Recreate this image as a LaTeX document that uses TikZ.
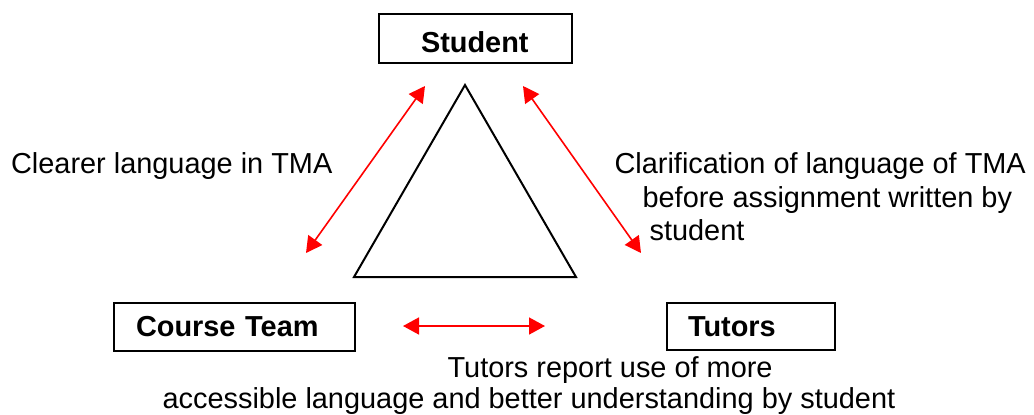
\documentclass[tikz,border=0pt]{standalone}
\usepackage{fontspec}
\setmainfont{Liberation Sans}
\usetikzlibrary{positioning,arrows.meta}

\begin{document}
\begin{tikzpicture}[
  x=0.5pt,y=-0.5pt,semithick,
  font=\fontsize{14.45}{16.75}\selectfont
]
  \tikzset{
    party/.style={draw=black,line width=1pt,font=\fontsize{14.45}{16.75}\selectfont\bfseries,
      align=left,anchor=north west,inner ysep=0pt,minimum height=24pt},
    link/.style={red,line width=0.8pt,{Triangle[length=8pt,width=8.5pt]}-{Triangle[length=8pt,width=8.5pt]}},
    note/.style={anchor=north west,inner sep=0pt,align=left}
  }
  \useasboundingbox (0,0) rectangle (1034,414);

  % The three parties
  \node[party,text width=54.5pt,inner xsep=21pt,minimum height=24.5pt,text height=14.5pt] (S) at (378,13) {Student};
  \node[party,text width=98.5pt,inner xsep=11pt] (C) at (113,302) {Course Team};
  \node[party,text width=63pt,inner xsep=10.5pt,minimum height=23.5pt] (T) at (666,302) {Tutors};

  % Triangle in the middle
  \coordinate (apex) at (465,85);
  \coordinate (bl)   at (354,277);
  \coordinate (br)   at (576,277);
  \draw[line width=1pt,line join=miter] (apex) -- (br) -- (bl) -- cycle;

  % Arrow ends
  \coordinate (cl1) at (306,253);
  \coordinate (cl2) at (425,86);
  \coordinate (cr1) at (523,86);
  \coordinate (cr2) at (641,253);
  \coordinate (cb1) at (403,326);
  \coordinate (cb2) at (545,326);

  % Edges
  \draw[link] (cl1) -- (cl2);
  \draw[link] (cr1) -- (cr2);
  \draw[link] (cb1) -- (cb2);

  % Labels
  \node[note] (lnote) at (10.5,152) {Clearer language in TMA};
  \node[note] (rnote) at (614,152) {Clarification of language of TMA\\
    \hspace*{14pt}before assignment written by\\
    \hspace*{17.5pt}student};
  \node[note,font=\fontsize{14.45}{15.5}\selectfont] (bnote) at (162,356)
    {\hspace*{142.5pt}Tutors report use of more\\
    accessible language and better understanding by student};
\end{tikzpicture}
\end{document}
